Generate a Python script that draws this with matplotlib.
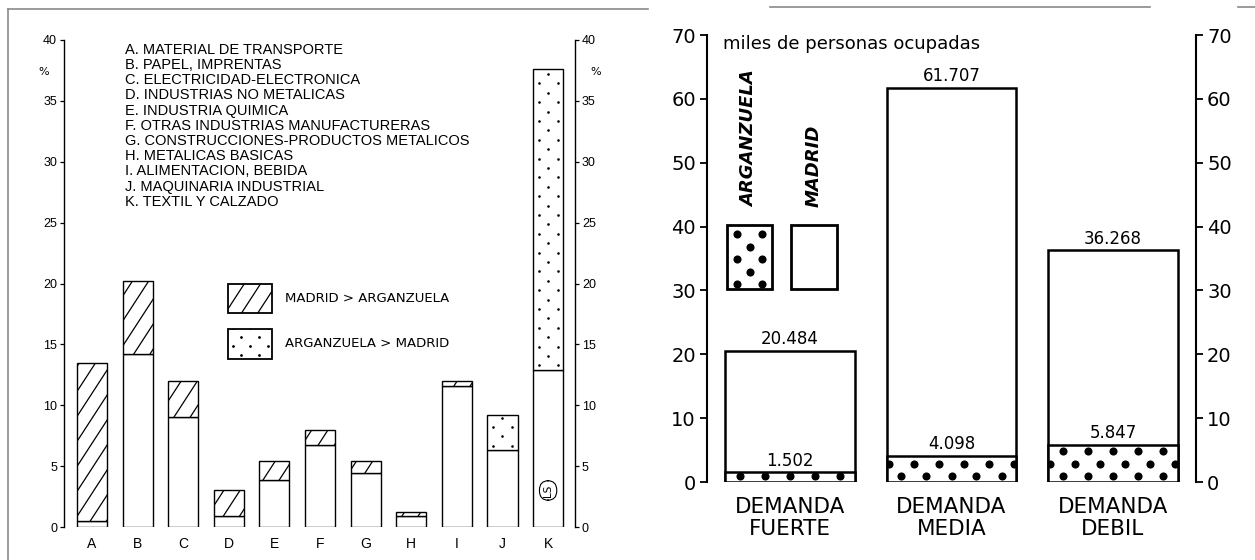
import numpy as np
import matplotlib.pyplot as plt
from matplotlib.patches import Rectangle
from matplotlib.collections import LineCollection
from matplotlib.lines import Line2D

# ---- panel izquierdo: % de ocupados por rama ----
ramas = ["A", "B", "C", "D", "E", "F", "G", "H", "I", "J", "K"]
nombres_ramas = [
    "A. MATERIAL DE TRANSPORTE",
    "B. PAPEL, IMPRENTAS",
    "C. ELECTRICIDAD-ELECTRONICA",
    "D. INDUSTRIAS NO METALICAS",
    "E. INDUSTRIA QUIMICA",
    "F. OTRAS INDUSTRIAS MANUFACTURERAS",
    "G. CONSTRUCCIONES-PRODUCTOS METALICOS",
    "H. METALICAS BASICAS",
    "I. ALIMENTACION, BEBIDA",
    "J. MAQUINARIA INDUSTRIAL",
    "K. TEXTIL Y CALZADO",
]
pct_madrid = [13.5, 20.2, 12.0, 3.0, 5.4, 8.0, 5.4, 1.2, 12.0, 6.3, 12.9]
pct_arganzuela = [0.5, 14.2, 9.0, 0.9, 3.9, 6.7, 4.4, 0.9, 11.6, 9.2, 37.6]

# ---- panel derecho: miles de personas ocupadas ----
demandas = ["DEMANDA\nFUERTE", "DEMANDA\nMEDIA", "DEMANDA\nDEBIL"]
ocup_madrid = [20.484, 61.707, 36.268]
ocup_arganzuela = [1.502, 4.098, 5.847]

fuente_estrecha = ["Liberation Sans Narrow", "Liberation Sans", "DejaVu Sans"]


# Texturas dibujadas en pixeles y pasadas a datos
def caja_px(ax, p):
    x, y, w, h = p.get_x(), p.get_y(), p.get_width(), p.get_height()
    (x0, y0), (x1, y1) = ax.transData.transform([(x, y), (x + w, y + h)])
    return x0, y0, x1, y1


def rayado(ax, p, paso=25, ang=57, lw=0.9):
    x0, y0, x1, y1 = caja_px(ax, p)
    t = np.tan(np.radians(ang))
    c_min = y0 - t * x1
    c_max = y1 - t * x0
    segs = []
    for c in np.arange(np.floor(c_min / paso) * paso, c_max + paso, paso):
        pts = [(x0 - 3, t * (x0 - 3) + c), (x1 + 3, t * (x1 + 3) + c)]
        segs.append(ax.transData.inverted().transform(pts))
    lc = LineCollection(segs, colors="black", linewidths=lw, zorder=3)
    ax.add_collection(lc, autolim=False)
    lc.set_clip_path(p)  # despues de add_collection, si no se pierde


def punteado(ax, p, dx, dy, s, y_ini, par=0, margen=3):
    x0, y0, x1, y1 = caja_px(ax, p)
    cx = (x0 + x1) / 2
    pts = []
    fila = par
    y = y0 + y_ini
    while y < y1 + 1:
        desf = dx / 2 if fila % 2 == 0 else 0
        xs = cx + desf + np.arange(-12, 13) * dx
        xs = xs[(xs > x0 - margen) & (xs < x1 + margen)]
        pts += [(xx, y) for xx in xs]
        y += dy
        fila += 1
    if not pts:
        return
    d = ax.transData.inverted().transform(pts)
    sc = ax.scatter(d[:, 0], d[:, 1], s=s, color="black", linewidths=0, zorder=3)
    sc.set_clip_path(p)


fig = plt.figure(figsize=(12.55, 5.6), dpi=100)

# marco del escaneo
gris = "#8a8a8a"
fig.add_artist(Line2D([8 / 1255, 648 / 1255], [1 - 9 / 560, 1 - 9 / 560], color=gris, lw=1.2))
fig.add_artist(Line2D([8 / 1255, 8 / 1255], [0, 1 - 9 / 560], color=gris, lw=1.2))
fig.add_artist(Line2D([770 / 1255, 1150 / 1255], [1 - 7 / 560, 1 - 7 / 560], color=gris, lw=1.2))
fig.add_artist(Line2D([1238 / 1255, 1], [1 - 7 / 560, 1 - 7 / 560], color=gris, lw=1.2))

# ================= panel izquierdo =================
ax1 = fig.add_axes([64 / 1255, 1 - 527 / 560, 511 / 1255, 487 / 560])
ax1.set_xlim(-0.614, 10.59)
ax1.set_ylim(0, 40)

x1 = np.arange(len(ramas))
base = np.minimum(pct_madrid, pct_arganzuela)
tope = np.maximum(pct_madrid, pct_arganzuela)
ancho1 = 0.66
ax1.bar(x1, base, width=ancho1, color="white", edgecolor="black", linewidth=1.0, zorder=2)
sup = ax1.bar(x1, tope - base, bottom=base, width=ancho1, color="white",
              edgecolor="black", linewidth=1.0, zorder=2)
for i, p in enumerate(sup.patches):
    if pct_madrid[i] > pct_arganzuela[i]:
        rayado(ax1, p)
    else:
        punteado(ax1, p, dx=19, dy=9.4, s=3.5, y_ini=4.5)

for sp in ["top", "bottom"]:
    ax1.spines[sp].set_visible(False)
for sp in ["left", "right"]:
    ax1.spines[sp].set_linewidth(1.0)
ax1.set_yticks(np.arange(0, 41, 5))
ax1.tick_params(axis="y", which="both", left=True, right=True, labelleft=True,
                labelright=True, length=3, width=0.9, pad=2, labelsize=9)
ax1.set_xticks(x1)
ax1.set_xticklabels(ramas, fontsize=10, family=fuente_estrecha)
ax1.tick_params(axis="x", length=0, pad=7)
for lab in ax1.get_yticklabels():
    lab.set_family(fuente_estrecha)

ax1.text(-0.03, 37.4, "%", transform=ax1.get_yaxis_transform(), ha="right",
         va="center", fontsize=8)
ax1.text(1.03, 37.4, "%", transform=ax1.get_yaxis_transform(), ha="left",
         va="center", fontsize=8)

for k, nombre in enumerate(nombres_ramas):
    ax1.text(0.72, 39.2 - 1.25 * k, nombre, fontsize=10.5, va="center", ha="left",
             family=fuente_estrecha)

# leyenda izquierda
ley_h = Rectangle((2.98, 17.6), 0.97, 2.4, facecolor="white", edgecolor="black",
                  linewidth=1.3, zorder=2)
ley_p = Rectangle((2.98, 13.8), 0.97, 2.5, facecolor="white", edgecolor="black",
                  linewidth=1.3, zorder=2)
ax1.add_patch(ley_h)
ax1.add_patch(ley_p)
rayado(ax1, ley_h)
punteado(ax1, ley_p, dx=17.5, dy=9, s=4, y_ini=4, par=0, margen=-2)
ax1.text(4.23, 18.8, "MADRID > ARGANZUELA", fontsize=9.5, va="center", ha="left")
ax1.text(4.23, 15.05, "ARGANZUELA > MADRID", fontsize=9.5, va="center", ha="left")

ax1.text(10, 3.0, "LS", rotation=90, fontsize=7.5, ha="center", va="center",
         bbox=dict(boxstyle="round,pad=0.35,rounding_size=0.9", fc="white", ec="black", lw=0.8))

# ================= panel derecho =================
ax2 = fig.add_axes([707 / 1255, 1 - 482 / 560, 489 / 1255, 447 / 560])
ax2.set_xlim(-0.514, 2.514)
ax2.set_ylim(0, 70)

x2 = np.arange(len(demandas))
ancho2 = 0.80
tot = ax2.bar(x2, ocup_madrid, width=ancho2, color="white", edgecolor="black",
              linewidth=1.8, zorder=2)
arg = ax2.bar(x2, ocup_arganzuela, width=ancho2, color="white", edgecolor="black",
              linewidth=1.8, zorder=2)
for p in arg.patches:
    punteado(ax2, p, dx=25, dy=12.3, s=34, y_ini=6, par=1)

for i in range(len(demandas)):
    ax2.annotate(f"{ocup_madrid[i]:.3f}", (x2[i], ocup_madrid[i]), xytext=(0, 2),
                 textcoords="offset points", ha="center", va="bottom", fontsize=12)
    ax2.annotate(f"{ocup_arganzuela[i]:.3f}", (x2[i], ocup_arganzuela[i]), xytext=(0, 2),
                 textcoords="offset points", ha="center", va="bottom", fontsize=12)

for sp in ["top", "bottom"]:
    ax2.spines[sp].set_visible(False)
for sp in ["left", "right"]:
    ax2.spines[sp].set_linewidth(1.5)
ax2.set_yticks(np.arange(0, 71, 10))
ax2.tick_params(axis="y", left=True, right=True, labelleft=True, labelright=True,
                length=5, width=1.3, pad=3, labelsize=14)
ax2.set_xticks(x2)
ax2.set_xticklabels(demandas, fontsize=15.5, linespacing=1.1)
ax2.tick_params(axis="x", length=0, pad=11)

ax2.text(-0.415, 68.6, "miles de personas ocupadas", fontsize=13, ha="left", va="center")

# leyenda derecha
caja_a = Rectangle((-0.39, 30.2), 0.28, 10.1, facecolor="white", edgecolor="black",
                   linewidth=2.0, zorder=2)
caja_m = Rectangle((0.006, 30.2), 0.284, 10.1, facecolor="white", edgecolor="black",
                   linewidth=2.0, zorder=2)
ax2.add_patch(caja_a)
ax2.add_patch(caja_m)
punteado(ax2, caja_a, dx=25, dy=12.5, s=34, y_ini=5, par=0, margen=-4)
ax2.text(-0.25, 43.0, "ARGANZUELA", rotation=90, ha="center", va="bottom",
         fontsize=13, fontweight="bold", fontstyle="italic")
ax2.text(0.148, 43.0, "MADRID", rotation=90, ha="center", va="bottom",
         fontsize=13, fontweight="bold", fontstyle="italic")

fig.savefig("out.png", dpi=100)
